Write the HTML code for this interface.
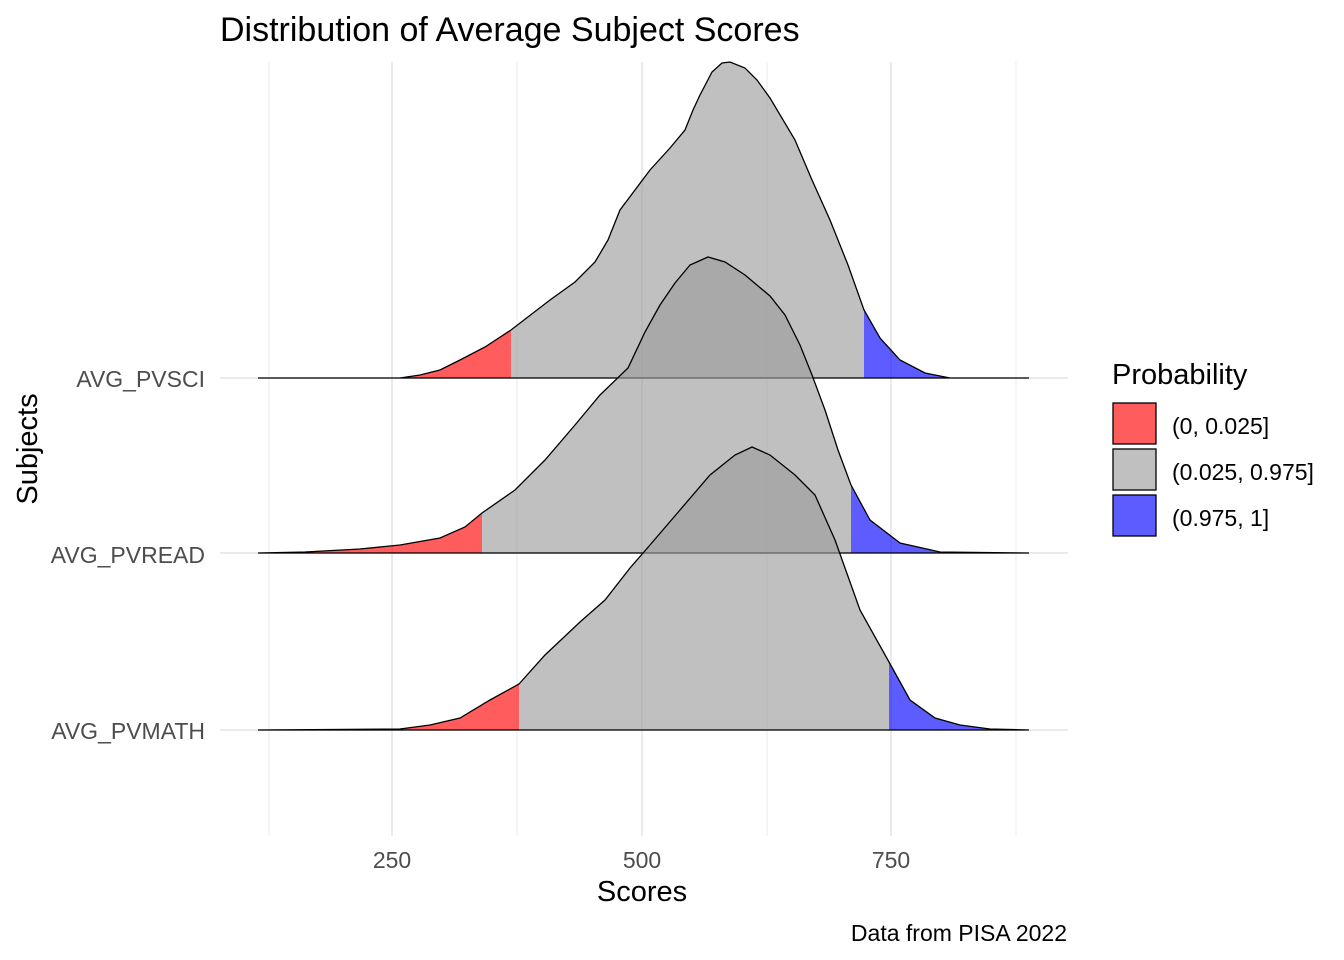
<!DOCTYPE html>
<html><head><meta charset="utf-8"><style>
body{margin:0;background:#fff;}
svg{display:block;font-family:"Liberation Sans",Arial,sans-serif;}
</style></head><body>
<svg width="1344" height="960" viewBox="0 0 1344 960" xmlns="http://www.w3.org/2000/svg">
<defs>
<clipPath id="rS"><rect x="0" y="0" width="511" height="960"/></clipPath>
<clipPath id="bS"><rect x="864" y="0" width="480" height="960"/></clipPath>
<clipPath id="rR"><rect x="0" y="0" width="482" height="960"/></clipPath>
<clipPath id="bR"><rect x="851" y="0" width="480" height="960"/></clipPath>
<clipPath id="rM"><rect x="0" y="0" width="519" height="960"/></clipPath>
<clipPath id="bM"><rect x="889" y="0" width="480" height="960"/></clipPath>
<clipPath id="mS"><rect x="511" y="0" width="353" height="960"/></clipPath>
<clipPath id="mR"><rect x="482" y="0" width="369" height="960"/></clipPath>
<clipPath id="mM"><rect x="519" y="0" width="370" height="960"/></clipPath>
<path id="pS" d="M258,378 L400,378 L420,375 L440,370 L460,360 L485,347 L511,330 L550,300 L575,282 L595,262 L608,240 L620,210 L635,190 L650,170 L670,148 L685,130 L693,110 L700,95 L712,72 L722,63 L730,62 L745,68 L757,80 L770,98 L795,140 L812,180 L830,220 L848,265 L864,310 L880,338 L900,360 L925,373 L950,378 L1029,378 Z"/>
<path id="pR" d="M258,553 L305,552 L360,549 L400,545 L440,538 L465,527 L482,513 L515,490 L545,460 L575,425 L600,395 L628,368 L645,332 L660,305 L675,283 L690,265 L708,257 L725,262 L745,275 L770,296 L785,315 L800,345 L812,375 L825,410 L838,450 L851,485 L870,520 L900,543 L940,552 L1029,553 Z"/>
<path id="pM" d="M258,730 L400,729 L430,725 L460,718 L490,700 L519,684 L545,655 L580,622 L605,600 L630,568 L650,545 L680,510 L710,475 L735,455 L752,447 L770,455 L795,475 L815,495 L835,540 L860,610 L889,662 L910,700 L935,718 L960,725 L990,729 L1029,730 Z"/>
</defs>
<g stroke="#ebebeb" stroke-width="1">
<line x1="269" y1="62" x2="269" y2="836"/><line x1="517" y1="62" x2="517" y2="836"/>
<line x1="767" y1="62" x2="767" y2="836"/><line x1="1016" y1="62" x2="1016" y2="836"/>
</g>
<g stroke="#e3e3e3" stroke-width="1.5">
<line x1="392" y1="62" x2="392" y2="836"/><line x1="642" y1="62" x2="642" y2="836"/><line x1="891" y1="62" x2="891" y2="836"/>
<line x1="220" y1="378" x2="1068" y2="378"/><line x1="220" y1="553" x2="1068" y2="553"/><line x1="220" y1="730" x2="1068" y2="730"/>
</g>
<g>
<use href="#pS" fill="#9c9c9c" fill-opacity="0.635" clip-path="url(#mS)"/>
<use href="#pS" fill="#ff0000" fill-opacity="0.635" clip-path="url(#rS)"/>
<use href="#pS" fill="#0000ff" fill-opacity="0.635" clip-path="url(#bS)"/>
<use href="#pS" fill="none" stroke="#000" stroke-width="1.3"/>
</g>
<g>
<use href="#pR" fill="#9c9c9c" fill-opacity="0.635" clip-path="url(#mR)"/>
<use href="#pR" fill="#ff0000" fill-opacity="0.635" clip-path="url(#rR)"/>
<use href="#pR" fill="#0000ff" fill-opacity="0.635" clip-path="url(#bR)"/>
<use href="#pR" fill="none" stroke="#000" stroke-width="1.3"/>
</g>
<g>
<use href="#pM" fill="#9c9c9c" fill-opacity="0.635" clip-path="url(#mM)"/>
<use href="#pM" fill="#ff0000" fill-opacity="0.635" clip-path="url(#rM)"/>
<use href="#pM" fill="#0000ff" fill-opacity="0.635" clip-path="url(#bM)"/>
<use href="#pM" fill="none" stroke="#000" stroke-width="1.3"/>
</g>
<g fill="#4d4d4d" font-size="23" text-anchor="end">
<text x="205" y="387">AVG_PVSCI</text><text x="205" y="563">AVG_PVREAD</text><text x="205" y="739">AVG_PVMATH</text>
</g>
<g fill="#4d4d4d" font-size="23" text-anchor="middle">
<text x="392" y="868">250</text><text x="642" y="868">500</text><text x="891" y="868">750</text>
</g>
<text x="642" y="901" font-size="29" text-anchor="middle">Scores</text>
<text transform="translate(37,449) rotate(-90)" font-size="29" text-anchor="middle">Subjects</text>
<text x="220" y="41" font-size="34">Distribution of Average Subject Scores</text>
<text x="1067" y="941" font-size="23" text-anchor="end">Data from PISA 2022</text>
<text x="1112" y="384" font-size="29">Probability</text>
<rect x="1113" y="403" width="43" height="41" fill="#ff5d5d" stroke="#000" stroke-width="1.3"/>
<rect x="1113" y="449" width="43" height="41" fill="#c0c0c0" stroke="#000" stroke-width="1.3"/>
<rect x="1113" y="495" width="43" height="41" fill="#5d5dff" stroke="#000" stroke-width="1.3"/>
<g font-size="23"><text x="1172" y="434">(0, 0.025]</text><text x="1172" y="480">(0.025, 0.975]</text><text x="1172" y="526">(0.975, 1]</text></g>
</svg>
</body></html>
